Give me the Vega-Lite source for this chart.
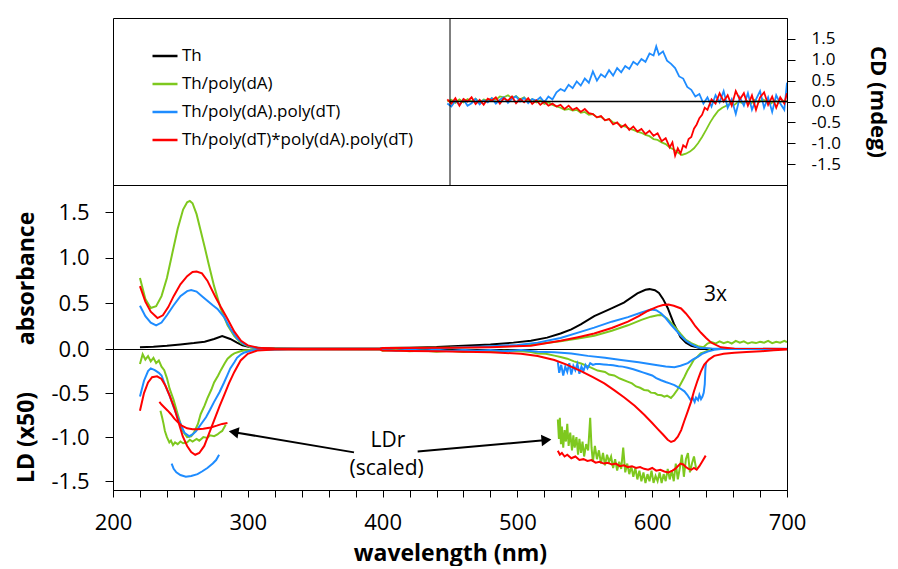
{
"$schema": "https://vega.github.io/schema/vega-lite/v6.json",
"padding": {"left": 14, "top": 17, "right": 4, "bottom": 0},
"config": {
  "font": "Open Sans",
  "view": {"stroke": "#000", "strokeWidth": 1},
  "axis": {"grid": false, "domainColor": "#000", "tickColor": "#000", "labelColor": "#000", "titleColor": "#000", "labelFont": "Open Sans", "titleFont": "Open Sans", "labelFontSize": 22, "titleFontSize": 23, "titleFontWeight": "bold", "labelFlush": false, "labelOverlap": false, "tickWidth": 1, "domainWidth": 1}
},
"datasets": {
  "cd": [
{"s":"G","w":448,"v":0},{"s":"G","w":451,"v":0.04},{"s":"G","w":454,"v":-0.03},{"s":"G","w":457,"v":0.05},{"s":"G","w":460,"v":-0.02},{"s":"G","w":463,"v":0.06},{"s":"G","w":466,"v":0},{"s":"G","w":469,"v":0.07},{"s":"G","w":472,"v":-0.03},{"s":"G","w":475,"v":0.05},{"s":"G","w":478,"v":0.02},{"s":"G","w":481,"v":0.08},{"s":"G","w":484,"v":0.04},{"s":"G","w":487,"v":0.12},{"s":"G","w":490,"v":0.1},{"s":"G","w":493,"v":0.15},{"s":"G","w":496,"v":0.08},{"s":"G","w":499,"v":0.13},{"s":"G","w":502,"v":0.05},{"s":"G","w":505,"v":0.1},{"s":"G","w":508,"v":0},{"s":"G","w":511,"v":0.06},{"s":"G","w":514,"v":-0.02},{"s":"G","w":517,"v":0.03},{"s":"G","w":520,"v":-0.06},{"s":"G","w":523,"v":-0.02},{"s":"G","w":526,"v":-0.08},{"s":"G","w":529,"v":-0.12},{"s":"G","w":532,"v":-0.15},{"s":"G","w":535,"v":-0.2},{"s":"G","w":538,"v":-0.18},{"s":"G","w":541,"v":-0.22},{"s":"G","w":544,"v":-0.2},{"s":"G","w":547,"v":-0.27},{"s":"G","w":550,"v":-0.25},{"s":"G","w":553,"v":-0.32},{"s":"G","w":556,"v":-0.3},{"s":"G","w":559,"v":-0.38},{"s":"G","w":562,"v":-0.36},{"s":"G","w":565,"v":-0.45},{"s":"G","w":568,"v":-0.42},{"s":"G","w":571,"v":-0.5},{"s":"G","w":574,"v":-0.52},{"s":"G","w":577,"v":-0.58},{"s":"G","w":580,"v":-0.6},{"s":"G","w":583,"v":-0.65},{"s":"G","w":586,"v":-0.68},{"s":"G","w":589,"v":-0.72},{"s":"G","w":592,"v":-0.75},{"s":"G","w":595,"v":-0.8},{"s":"G","w":598,"v":-0.83},{"s":"G","w":601,"v":-0.9},{"s":"G","w":604,"v":-0.92},{"s":"G","w":607,"v":-0.98},{"s":"G","w":610,"v":-1.02},{"s":"G","w":613,"v":-1.1},{"s":"G","w":616,"v":-1.15},{"s":"G","w":619,"v":-1.22},{"s":"G","w":622,"v":-1.28},{"s":"G","w":625,"v":-1.25},{"s":"G","w":628,"v":-1.2},{"s":"G","w":631,"v":-1.12},{"s":"G","w":634,"v":-1},{"s":"G","w":637,"v":-0.85},{"s":"G","w":640,"v":-0.68},{"s":"G","w":643,"v":-0.5},{"s":"G","w":646,"v":-0.35},{"s":"G","w":649,"v":-0.22},{"s":"G","w":652,"v":-0.15},{"s":"G","w":655,"v":-0.1},{"s":"G","w":658,"v":-0.05},{"s":"G","w":661,"v":-0.08},{"s":"G","w":664,"v":0},{"s":"G","w":667,"v":-0.04},{"s":"G","w":670,"v":0.02},{"s":"G","w":673,"v":-0.06},{"s":"G","w":676,"v":0.04},{"s":"G","w":679,"v":-0.02},{"s":"G","w":682,"v":0.05},{"s":"G","w":685,"v":0},{"s":"G","w":688,"v":-0.05},{"s":"G","w":691,"v":0.03},{"s":"G","w":694,"v":-0.03},{"s":"G","w":697,"v":0.02},{"s":"G","w":700,"v":0},
{"s":"B","w":448,"v":-0.05},{"s":"B","w":451,"v":-0.12},{"s":"B","w":454,"v":0.02},{"s":"B","w":457,"v":-0.08},{"s":"B","w":460,"v":0.05},{"s":"B","w":463,"v":-0.1},{"s":"B","w":466,"v":-0.04},{"s":"B","w":469,"v":0.06},{"s":"B","w":472,"v":-0.07},{"s":"B","w":475,"v":0.03},{"s":"B","w":478,"v":-0.02},{"s":"B","w":481,"v":0.08},{"s":"B","w":484,"v":-0.05},{"s":"B","w":487,"v":0.04},{"s":"B","w":490,"v":0.1},{"s":"B","w":493,"v":-0.03},{"s":"B","w":496,"v":0.07},{"s":"B","w":499,"v":0.12},{"s":"B","w":502,"v":0},{"s":"B","w":505,"v":0.09},{"s":"B","w":508,"v":-0.04},{"s":"B","w":511,"v":0.06},{"s":"B","w":514,"v":0.02},{"s":"B","w":517,"v":0.1},{"s":"B","w":520,"v":-0.02},{"s":"B","w":523,"v":0.12},{"s":"B","w":526,"v":0.05},{"s":"B","w":529,"v":0.22},{"s":"B","w":532,"v":0.3},{"s":"B","w":535,"v":0.25},{"s":"B","w":538,"v":0.4},{"s":"B","w":541,"v":0.32},{"s":"B","w":544,"v":0.48},{"s":"B","w":547,"v":0.38},{"s":"B","w":550,"v":0.55},{"s":"B","w":553,"v":0.45},{"s":"B","w":556,"v":0.72},{"s":"B","w":559,"v":0.5},{"s":"B","w":562,"v":0.65},{"s":"B","w":565,"v":0.58},{"s":"B","w":568,"v":0.75},{"s":"B","w":571,"v":0.62},{"s":"B","w":574,"v":0.8},{"s":"B","w":577,"v":0.7},{"s":"B","w":580,"v":0.85},{"s":"B","w":583,"v":0.78},{"s":"B","w":586,"v":0.95},{"s":"B","w":589,"v":0.88},{"s":"B","w":592,"v":1.02},{"s":"B","w":595,"v":0.95},{"s":"B","w":598,"v":1.15},{"s":"B","w":601,"v":1.1},{"s":"B","w":603,"v":1.32},{"s":"B","w":605,"v":1.12},{"s":"B","w":608,"v":1.2},{"s":"B","w":611,"v":0.98},{"s":"B","w":614,"v":0.9},{"s":"B","w":617,"v":0.8},{"s":"B","w":620,"v":0.6},{"s":"B","w":623,"v":0.55},{"s":"B","w":626,"v":0.35},{"s":"B","w":629,"v":0.28},{"s":"B","w":632,"v":0.12},{"s":"B","w":635,"v":0.18},{"s":"B","w":638,"v":-0.05},{"s":"B","w":641,"v":0.1},{"s":"B","w":644,"v":-0.12},{"s":"B","w":647,"v":0.15},{"s":"B","w":650,"v":-0.02},{"s":"B","w":653,"v":0.25},{"s":"B","w":656,"v":-0.15},{"s":"B","w":659,"v":0.05},{"s":"B","w":662,"v":-0.3},{"s":"B","w":665,"v":0.1},{"s":"B","w":668,"v":-0.1},{"s":"B","w":671,"v":0.2},{"s":"B","w":674,"v":-0.2},{"s":"B","w":677,"v":0.05},{"s":"B","w":680,"v":0.25},{"s":"B","w":683,"v":-0.15},{"s":"B","w":686,"v":0.1},{"s":"B","w":689,"v":-0.25},{"s":"B","w":692,"v":0.15},{"s":"B","w":695,"v":-0.05},{"s":"B","w":698,"v":-0.2},{"s":"B","w":700,"v":0.45},
{"s":"R","w":448,"v":0.05},{"s":"R","w":451,"v":-0.05},{"s":"R","w":454,"v":0.08},{"s":"R","w":457,"v":-0.1},{"s":"R","w":460,"v":0.06},{"s":"R","w":463,"v":0},{"s":"R","w":466,"v":0.1},{"s":"R","w":469,"v":-0.06},{"s":"R","w":472,"v":0.04},{"s":"R","w":475,"v":-0.08},{"s":"R","w":478,"v":0.07},{"s":"R","w":481,"v":0.02},{"s":"R","w":484,"v":0.1},{"s":"R","w":487,"v":-0.05},{"s":"R","w":490,"v":0.08},{"s":"R","w":493,"v":0.02},{"s":"R","w":496,"v":0.12},{"s":"R","w":499,"v":-0.04},{"s":"R","w":502,"v":0.06},{"s":"R","w":505,"v":-0.02},{"s":"R","w":508,"v":0.08},{"s":"R","w":511,"v":-0.06},{"s":"R","w":514,"v":0.03},{"s":"R","w":517,"v":-0.08},{"s":"R","w":520,"v":0},{"s":"R","w":523,"v":-0.1},{"s":"R","w":526,"v":-0.05},{"s":"R","w":529,"v":-0.12},{"s":"R","w":532,"v":-0.08},{"s":"R","w":535,"v":-0.18},{"s":"R","w":538,"v":-0.1},{"s":"R","w":541,"v":-0.2},{"s":"R","w":544,"v":-0.15},{"s":"R","w":547,"v":-0.25},{"s":"R","w":550,"v":-0.18},{"s":"R","w":553,"v":-0.28},{"s":"R","w":556,"v":-0.3},{"s":"R","w":559,"v":-0.38},{"s":"R","w":562,"v":-0.35},{"s":"R","w":565,"v":-0.45},{"s":"R","w":568,"v":-0.42},{"s":"R","w":571,"v":-0.55},{"s":"R","w":574,"v":-0.5},{"s":"R","w":577,"v":-0.62},{"s":"R","w":580,"v":-0.55},{"s":"R","w":583,"v":-0.68},{"s":"R","w":586,"v":-0.6},{"s":"R","w":589,"v":-0.72},{"s":"R","w":592,"v":-0.66},{"s":"R","w":595,"v":-0.78},{"s":"R","w":598,"v":-0.7},{"s":"R","w":601,"v":-0.82},{"s":"R","w":604,"v":-0.76},{"s":"R","w":607,"v":-0.95},{"s":"R","w":610,"v":-0.88},{"s":"R","w":613,"v":-1.1},{"s":"R","w":615,"v":-0.98},{"s":"R","w":617,"v":-1.3},{"s":"R","w":619,"v":-1.12},{"s":"R","w":621,"v":-1.25},{"s":"R","w":623,"v":-1.05},{"s":"R","w":625,"v":-1.1},{"s":"R","w":627,"v":-0.9},{"s":"R","w":629,"v":-0.85},{"s":"R","w":631,"v":-0.65},{"s":"R","w":633,"v":-0.55},{"s":"R","w":635,"v":-0.4},{"s":"R","w":637,"v":-0.32},{"s":"R","w":639,"v":-0.15},{"s":"R","w":641,"v":-0.2},{"s":"R","w":644,"v":0.05},{"s":"R","w":647,"v":-0.05},{"s":"R","w":650,"v":0.2},{"s":"R","w":653,"v":0},{"s":"R","w":656,"v":0.15},{"s":"R","w":659,"v":-0.1},{"s":"R","w":662,"v":0.25},{"s":"R","w":665,"v":0.05},{"s":"R","w":668,"v":0.2},{"s":"R","w":671,"v":-0.1},{"s":"R","w":674,"v":0.15},{"s":"R","w":677,"v":-0.2},{"s":"R","w":680,"v":0.1},{"s":"R","w":683,"v":0.22},{"s":"R","w":686,"v":-0.08},{"s":"R","w":689,"v":0.12},{"s":"R","w":692,"v":-0.15},{"s":"R","w":695,"v":0.1},{"s":"R","w":698,"v":-0.05},{"s":"R","w":700,"v":0.2}
  ],
  "abs": [
{"s":"K","w":220,"v":0.02},{"s":"K","w":230,"v":0.025},{"s":"K","w":240,"v":0.035},{"s":"K","w":250,"v":0.05},{"s":"K","w":260,"v":0.065},{"s":"K","w":268,"v":0.08},{"s":"K","w":275,"v":0.11},{"s":"K","w":281,"v":0.143},{"s":"K","w":287,"v":0.11},{"s":"K","w":292,"v":0.07},{"s":"K","w":296,"v":0.04},{"s":"K","w":302,"v":0.018},{"s":"K","w":310,"v":0.01},{"s":"K","w":320,"v":0.006},{"s":"K","w":340,"v":0.004},{"s":"K","w":398,"v":0.004},{"s":"K","w":400,"v":0.012},{"s":"K","w":420,"v":0.015},{"s":"K","w":440,"v":0.022},{"s":"K","w":460,"v":0.036},{"s":"K","w":480,"v":0.05},{"s":"K","w":497,"v":0.07},{"s":"K","w":510,"v":0.09},{"s":"K","w":522,"v":0.125},{"s":"K","w":532,"v":0.17},{"s":"K","w":540,"v":0.215},{"s":"K","w":547,"v":0.27},{"s":"K","w":557,"v":0.36},{"s":"K","w":569,"v":0.44},{"s":"K","w":579,"v":0.51},{"s":"K","w":589,"v":0.61},{"s":"K","w":595,"v":0.65},{"s":"K","w":598,"v":0.657},{"s":"K","w":602,"v":0.645},{"s":"K","w":605,"v":0.615},{"s":"K","w":608,"v":0.55},{"s":"K","w":611.5,"v":0.45},{"s":"K","w":616,"v":0.28},{"s":"K","w":621,"v":0.13},{"s":"K","w":625,"v":0.07},{"s":"K","w":629,"v":0.036},{"s":"K","w":636,"v":0.008},{"s":"K","w":645,"v":0},{"s":"K","w":700,"v":0},
{"s":"G","w":220,"v":0.78},{"s":"G","w":224,"v":0.55},{"s":"G","w":228,"v":0.45},{"s":"G","w":232,"v":0.47},{"s":"G","w":236,"v":0.58},{"s":"G","w":240,"v":0.78},{"s":"G","w":244,"v":1.05},{"s":"G","w":248,"v":1.32},{"s":"G","w":252,"v":1.53},{"s":"G","w":255,"v":1.61},{"s":"G","w":257,"v":1.625},{"s":"G","w":259,"v":1.6},{"s":"G","w":262,"v":1.48},{"s":"G","w":265,"v":1.3},{"s":"G","w":268,"v":1.12},{"s":"G","w":271,"v":0.93},{"s":"G","w":275,"v":0.69},{"s":"G","w":280,"v":0.44},{"s":"G","w":285,"v":0.26},{"s":"G","w":290,"v":0.14},{"s":"G","w":295,"v":0.064},{"s":"G","w":302,"v":0.02},{"s":"G","w":310,"v":0.008},{"s":"G","w":330,"v":0.004},{"s":"G","w":398,"v":0.003},{"s":"G","w":400,"v":0.01},{"s":"G","w":450,"v":0.015},{"s":"G","w":480,"v":0.025},{"s":"G","w":500,"v":0.035},{"s":"G","w":515,"v":0.055},{"s":"G","w":532,"v":0.085},{"s":"G","w":545,"v":0.115},{"s":"G","w":557,"v":0.145},{"s":"G","w":570,"v":0.2},{"s":"G","w":582,"v":0.26},{"s":"G","w":592,"v":0.32},{"s":"G","w":599,"v":0.355},{"s":"G","w":604,"v":0.37},{"s":"G","w":607,"v":0.373},{"s":"G","w":611,"v":0.335},{"s":"G","w":614,"v":0.285},{"s":"G","w":618,"v":0.22},{"s":"G","w":621.4,"v":0.16},{"s":"G","w":625,"v":0.1},{"s":"G","w":629,"v":0.064},{"s":"G","w":634,"v":0.03},{"s":"G","w":638,"v":0.02},{"s":"G","w":641,"v":0.06},{"s":"G","w":644,"v":0.075},{"s":"G","w":647,"v":0.06},{"s":"G","w":650,"v":0.085},{"s":"G","w":653,"v":0.065},{"s":"G","w":656,"v":0.08},{"s":"G","w":659,"v":0.06},{"s":"G","w":662,"v":0.09},{"s":"G","w":665,"v":0.07},{"s":"G","w":668,"v":0.085},{"s":"G","w":671,"v":0.06},{"s":"G","w":674,"v":0.075},{"s":"G","w":677,"v":0.065},{"s":"G","w":680,"v":0.08},{"s":"G","w":683,"v":0.07},{"s":"G","w":686,"v":0.09},{"s":"G","w":689,"v":0.065},{"s":"G","w":692,"v":0.08},{"s":"G","w":695,"v":0.07},{"s":"G","w":698,"v":0.09},{"s":"G","w":700,"v":0.075},
{"s":"B","w":220,"v":0.475},{"s":"B","w":224,"v":0.36},{"s":"B","w":228,"v":0.29},{"s":"B","w":232,"v":0.26},{"s":"B","w":236,"v":0.29},{"s":"B","w":240,"v":0.37},{"s":"B","w":245,"v":0.48},{"s":"B","w":250,"v":0.58},{"s":"B","w":255,"v":0.635},{"s":"B","w":258,"v":0.646},{"s":"B","w":262,"v":0.63},{"s":"B","w":266,"v":0.58},{"s":"B","w":270,"v":0.53},{"s":"B","w":274,"v":0.48},{"s":"B","w":277.5,"v":0.44},{"s":"B","w":282.4,"v":0.35},{"s":"B","w":287,"v":0.225},{"s":"B","w":292,"v":0.118},{"s":"B","w":297,"v":0.054},{"s":"B","w":304,"v":0.015},{"s":"B","w":315,"v":0.005},{"s":"B","w":398,"v":0.003},{"s":"B","w":400,"v":0.01},{"s":"B","w":450,"v":0.015},{"s":"B","w":480,"v":0.03},{"s":"B","w":500,"v":0.045},{"s":"B","w":515,"v":0.07},{"s":"B","w":532,"v":0.12},{"s":"B","w":545,"v":0.18},{"s":"B","w":557,"v":0.235},{"s":"B","w":570,"v":0.3},{"s":"B","w":582,"v":0.35},{"s":"B","w":592,"v":0.4},{"s":"B","w":599,"v":0.434},{"s":"B","w":603,"v":0.425},{"s":"B","w":606.7,"v":0.39},{"s":"B","w":610,"v":0.34},{"s":"B","w":614,"v":0.266},{"s":"B","w":618,"v":0.2},{"s":"B","w":621.4,"v":0.142},{"s":"B","w":625,"v":0.09},{"s":"B","w":628.8,"v":0.053},{"s":"B","w":633,"v":0.025},{"s":"B","w":636,"v":0.01},{"s":"B","w":645,"v":0.003},{"s":"B","w":700,"v":0.002},
{"s":"R","w":220,"v":0.69},{"s":"R","w":224,"v":0.52},{"s":"R","w":228,"v":0.41},{"s":"R","w":233,"v":0.34},{"s":"R","w":237,"v":0.37},{"s":"R","w":241,"v":0.46},{"s":"R","w":245,"v":0.58},{"s":"R","w":250,"v":0.71},{"s":"R","w":255,"v":0.8},{"s":"R","w":259,"v":0.845},{"s":"R","w":262,"v":0.85},{"s":"R","w":266,"v":0.83},{"s":"R","w":270,"v":0.75},{"s":"R","w":273,"v":0.66},{"s":"R","w":276,"v":0.57},{"s":"R","w":280,"v":0.46},{"s":"R","w":285,"v":0.33},{"s":"R","w":290,"v":0.19},{"s":"R","w":295,"v":0.09},{"s":"R","w":300,"v":0.04},{"s":"R","w":307,"v":0.015},{"s":"R","w":320,"v":0.005},{"s":"R","w":398,"v":0.003},{"s":"R","w":400,"v":0.01},{"s":"R","w":450,"v":0.013},{"s":"R","w":480,"v":0.02},{"s":"R","w":510,"v":0.036},{"s":"R","w":532,"v":0.09},{"s":"R","w":545,"v":0.13},{"s":"R","w":557,"v":0.17},{"s":"R","w":570,"v":0.23},{"s":"R","w":582,"v":0.3},{"s":"R","w":590,"v":0.36},{"s":"R","w":597,"v":0.42},{"s":"R","w":604,"v":0.465},{"s":"R","w":608,"v":0.483},{"s":"R","w":612,"v":0.487},{"s":"R","w":616,"v":0.475},{"s":"R","w":621.4,"v":0.445},{"s":"R","w":625,"v":0.39},{"s":"R","w":628.8,"v":0.32},{"s":"R","w":632,"v":0.25},{"s":"R","w":636.2,"v":0.178},{"s":"R","w":640,"v":0.12},{"s":"R","w":643.6,"v":0.071},{"s":"R","w":651,"v":0.018},{"s":"R","w":661,"v":0.003},{"s":"R","w":700,"v":0}
  ],
  "ld": [
{"s":"G","p":"m","w":220,"v":-0.17},{"s":"G","p":"m","w":222,"v":-0.06},{"s":"G","p":"m","w":224,"v":-0.12},{"s":"G","p":"m","w":226,"v":-0.08},{"s":"G","p":"m","w":228,"v":-0.14},{"s":"G","p":"m","w":230,"v":-0.1},{"s":"G","p":"m","w":232,"v":-0.16},{"s":"G","p":"m","w":234,"v":-0.13},{"s":"G","p":"m","w":236,"v":-0.2},{"s":"G","p":"m","w":238,"v":-0.24},{"s":"G","p":"m","w":240,"v":-0.33},{"s":"G","p":"m","w":242,"v":-0.45},{"s":"G","p":"m","w":245,"v":-0.58},{"s":"G","p":"m","w":248,"v":-0.74},{"s":"G","p":"m","w":251.7,"v":-0.93},{"s":"G","p":"m","w":255,"v":-1},{"s":"G","p":"m","w":258,"v":-0.99},{"s":"G","p":"m","w":260,"v":-0.95},{"s":"G","p":"m","w":263,"v":-0.85},{"s":"G","p":"m","w":265,"v":-0.74},{"s":"G","p":"m","w":268,"v":-0.64},{"s":"G","p":"m","w":270,"v":-0.56},{"s":"G","p":"m","w":273,"v":-0.46},{"s":"G","p":"m","w":275,"v":-0.38},{"s":"G","p":"m","w":278,"v":-0.3},{"s":"G","p":"m","w":280,"v":-0.24},{"s":"G","p":"m","w":283,"v":-0.16},{"s":"G","p":"m","w":285,"v":-0.11},{"s":"G","p":"m","w":288,"v":-0.07},{"s":"G","p":"m","w":290,"v":-0.05},{"s":"G","p":"m","w":294,"v":-0.028},{"s":"G","p":"m","w":297,"v":-0.018},{"s":"G","p":"m","w":305,"v":-0.008},{"s":"G","p":"m","w":330,"v":-0.004},{"s":"G","p":"m","w":398,"v":-0.005},{"s":"G","p":"m","w":400,"v":-0.02},{"s":"G","p":"m","w":410,"v":-0.012},{"s":"G","p":"m","w":420,"v":-0.025},{"s":"G","p":"m","w":430,"v":-0.018},{"s":"G","p":"m","w":440,"v":-0.03},{"s":"G","p":"m","w":450,"v":-0.02},{"s":"G","p":"m","w":460,"v":-0.035},{"s":"G","p":"m","w":470,"v":-0.022},{"s":"G","p":"m","w":480,"v":-0.032},{"s":"G","p":"m","w":490,"v":-0.02},{"s":"G","p":"m","w":502.7,"v":-0.025},{"s":"G","p":"m","w":510,"v":-0.035},{"s":"G","p":"m","w":515,"v":-0.05},{"s":"G","p":"m","w":521,"v":-0.055},{"s":"G","p":"m","w":527.4,"v":-0.075},{"s":"G","p":"m","w":532,"v":-0.09},{"s":"G","p":"m","w":537,"v":-0.11},{"s":"G","p":"m","w":542,"v":-0.14},{"s":"G","p":"m","w":547.2,"v":-0.165},{"s":"G","p":"m","w":553,"v":-0.2},{"s":"G","p":"m","w":559.5,"v":-0.245},{"s":"G","p":"m","w":565,"v":-0.26},{"s":"G","p":"m","w":568,"v":-0.29},{"s":"G","p":"m","w":571.8,"v":-0.3},{"s":"G","p":"m","w":576,"v":-0.335},{"s":"G","p":"m","w":581.7,"v":-0.37},{"s":"G","p":"m","w":585,"v":-0.39},{"s":"G","p":"m","w":588,"v":-0.425},{"s":"G","p":"m","w":591,"v":-0.44},{"s":"G","p":"m","w":594,"v":-0.465},{"s":"G","p":"m","w":597,"v":-0.47},{"s":"G","p":"m","w":599,"v":-0.495},{"s":"G","p":"m","w":602,"v":-0.5},{"s":"G","p":"m","w":604,"v":-0.52},{"s":"G","p":"m","w":607,"v":-0.525},{"s":"G","p":"m","w":609,"v":-0.54},{"s":"G","p":"m","w":611,"v":-0.53},{"s":"G","p":"m","w":613.9,"v":-0.555},{"s":"G","p":"m","w":616,"v":-0.52},{"s":"G","p":"m","w":618.8,"v":-0.46},{"s":"G","p":"m","w":621,"v":-0.4},{"s":"G","p":"m","w":623.8,"v":-0.32},{"s":"G","p":"m","w":626,"v":-0.25},{"s":"G","p":"m","w":628.8,"v":-0.178},{"s":"G","p":"m","w":631,"v":-0.12},{"s":"G","p":"m","w":633.7,"v":-0.085},{"s":"G","p":"m","w":636,"v":-0.05},{"s":"G","p":"m","w":638.6,"v":-0.035},{"s":"G","p":"m","w":643.5,"v":-0.005},
{"s":"G","p":"rl","w":235.2,"v":-0.7},{"s":"G","p":"rl","w":236.5,"v":-0.78},{"s":"G","p":"rl","w":237.5,"v":-0.85},{"s":"G","p":"rl","w":238.5,"v":-0.93},{"s":"G","p":"rl","w":240,"v":-1},{"s":"G","p":"rl","w":241.8,"v":-1.06},{"s":"G","p":"rl","w":243,"v":-1.04},{"s":"G","p":"rl","w":244.5,"v":-1.09},{"s":"G","p":"rl","w":246,"v":-1.06},{"s":"G","p":"rl","w":248,"v":-1.08},{"s":"G","p":"rl","w":250,"v":-1.05},{"s":"G","p":"rl","w":252,"v":-1.07},{"s":"G","p":"rl","w":255,"v":-1.06},{"s":"G","p":"rl","w":257,"v":-1.03},{"s":"G","p":"rl","w":259,"v":-1.05},{"s":"G","p":"rl","w":262,"v":-1.02},{"s":"G","p":"rl","w":264,"v":-1.04},{"s":"G","p":"rl","w":267,"v":-1},{"s":"G","p":"rl","w":270,"v":-1.01},{"s":"G","p":"rl","w":272,"v":-0.98},{"s":"G","p":"rl","w":275,"v":-0.99},{"s":"G","p":"rl","w":277.5,"v":-0.97},{"s":"G","p":"rl","w":279,"v":-0.95},{"s":"G","p":"rl","w":281,"v":-0.93},{"s":"G","p":"rl","w":283.6,"v":-0.86},
{"s":"G","p":"rr","w":530,"v":-0.8},{"s":"G","p":"rr","w":530.8,"v":-1.02},{"s":"G","p":"rr","w":531.5,"v":-0.78},{"s":"G","p":"rr","w":532.3,"v":-1.08},{"s":"G","p":"rr","w":533,"v":-0.88},{"s":"G","p":"rr","w":534,"v":-1.12},{"s":"G","p":"rr","w":535,"v":-0.92},{"s":"G","p":"rr","w":536,"v":-1.05},{"s":"G","p":"rr","w":537,"v":-0.85},{"s":"G","p":"rr","w":538,"v":-1.1},{"s":"G","p":"rr","w":539.2,"v":-0.95},{"s":"G","p":"rr","w":540.5,"v":-1.15},{"s":"G","p":"rr","w":541.5,"v":-0.98},{"s":"G","p":"rr","w":542.5,"v":-1.12},{"s":"G","p":"rr","w":543.8,"v":-1},{"s":"G","p":"rr","w":545,"v":-1.2},{"s":"G","p":"rr","w":546,"v":-1.02},{"s":"G","p":"rr","w":547.2,"v":-1.18},{"s":"G","p":"rr","w":548.3,"v":-1.05},{"s":"G","p":"rr","w":549.5,"v":-1.22},{"s":"G","p":"rr","w":551,"v":-1.08},{"s":"G","p":"rr","w":552.5,"v":-1.15},{"s":"G","p":"rr","w":554,"v":-0.78},{"s":"G","p":"rr","w":555,"v":-1.12},{"s":"G","p":"rr","w":556,"v":-1.28},{"s":"G","p":"rr","w":557.5,"v":-1.1},{"s":"G","p":"rr","w":559,"v":-1.25},{"s":"G","p":"rr","w":560.5,"v":-1.15},{"s":"G","p":"rr","w":562,"v":-1.3},{"s":"G","p":"rr","w":563.5,"v":-1.18},{"s":"G","p":"rr","w":565,"v":-1.32},{"s":"G","p":"rr","w":566.5,"v":-1.2},{"s":"G","p":"rr","w":568,"v":-1.28},{"s":"G","p":"rr","w":569.5,"v":-1.22},{"s":"G","p":"rr","w":571,"v":-1.35},{"s":"G","p":"rr","w":572.5,"v":-1.25},{"s":"G","p":"rr","w":574,"v":-1.38},{"s":"G","p":"rr","w":575.5,"v":-1.28},{"s":"G","p":"rr","w":577,"v":-1.36},{"s":"G","p":"rr","w":578.5,"v":-1.12},{"s":"G","p":"rr","w":580,"v":-1.4},{"s":"G","p":"rr","w":581.5,"v":-1.3},{"s":"G","p":"rr","w":583,"v":-1.42},{"s":"G","p":"rr","w":584.5,"v":-1.33},{"s":"G","p":"rr","w":586,"v":-1.45},{"s":"G","p":"rr","w":587.5,"v":-1.35},{"s":"G","p":"rr","w":589,"v":-1.48},{"s":"G","p":"rr","w":590.5,"v":-1.38},{"s":"G","p":"rr","w":592,"v":-1.5},{"s":"G","p":"rr","w":593.5,"v":-1.4},{"s":"G","p":"rr","w":595,"v":-1.52},{"s":"G","p":"rr","w":596.5,"v":-1.42},{"s":"G","p":"rr","w":598,"v":-1.5},{"s":"G","p":"rr","w":599.5,"v":-1.38},{"s":"G","p":"rr","w":601,"v":-1.52},{"s":"G","p":"rr","w":602.5,"v":-1.44},{"s":"G","p":"rr","w":604,"v":-1.5},{"s":"G","p":"rr","w":605.5,"v":-1.4},{"s":"G","p":"rr","w":607,"v":-1.52},{"s":"G","p":"rr","w":608.5,"v":-1.42},{"s":"G","p":"rr","w":610,"v":-1.5},{"s":"G","p":"rr","w":611.5,"v":-1.36},{"s":"G","p":"rr","w":613,"v":-1.48},{"s":"G","p":"rr","w":614.5,"v":-1.38},{"s":"G","p":"rr","w":616,"v":-1.5},{"s":"G","p":"rr","w":617.5,"v":-1.3},{"s":"G","p":"rr","w":619,"v":-1.48},{"s":"G","p":"rr","w":620.5,"v":-1.35},{"s":"G","p":"rr","w":622,"v":-1.2},{"s":"G","p":"rr","w":623.5,"v":-1.45},{"s":"G","p":"rr","w":625,"v":-1.25},{"s":"G","p":"rr","w":626.5,"v":-1.18},{"s":"G","p":"rr","w":628,"v":-1.4},{"s":"G","p":"rr","w":629.5,"v":-1.3},{"s":"G","p":"rr","w":631,"v":-1.22},{"s":"G","p":"rr","w":632.5,"v":-1.35},
{"s":"B","p":"m","w":220,"v":-0.54},{"s":"B","p":"m","w":223,"v":-0.36},{"s":"B","p":"m","w":226,"v":-0.25},{"s":"B","p":"m","w":228,"v":-0.22},{"s":"B","p":"m","w":231,"v":-0.24},{"s":"B","p":"m","w":234,"v":-0.27},{"s":"B","p":"m","w":236,"v":-0.3},{"s":"B","p":"m","w":239,"v":-0.42},{"s":"B","p":"m","w":242,"v":-0.53},{"s":"B","p":"m","w":245,"v":-0.66},{"s":"B","p":"m","w":248,"v":-0.775},{"s":"B","p":"m","w":251,"v":-0.88},{"s":"B","p":"m","w":253,"v":-0.95},{"s":"B","p":"m","w":256.6,"v":-0.99},{"s":"B","p":"m","w":259,"v":-0.97},{"s":"B","p":"m","w":261.5,"v":-0.935},{"s":"B","p":"m","w":265,"v":-0.86},{"s":"B","p":"m","w":269,"v":-0.775},{"s":"B","p":"m","w":272,"v":-0.69},{"s":"B","p":"m","w":275,"v":-0.6},{"s":"B","p":"m","w":279,"v":-0.49},{"s":"B","p":"m","w":282.4,"v":-0.38},{"s":"B","p":"m","w":285,"v":-0.29},{"s":"B","p":"m","w":287,"v":-0.22},{"s":"B","p":"m","w":290,"v":-0.15},{"s":"B","p":"m","w":292,"v":-0.1},{"s":"B","p":"m","w":295,"v":-0.06},{"s":"B","p":"m","w":297,"v":-0.043},{"s":"B","p":"m","w":302,"v":-0.02},{"s":"B","p":"m","w":307,"v":-0.01},{"s":"B","p":"m","w":330,"v":-0.004},{"s":"B","p":"m","w":398,"v":-0.004},{"s":"B","p":"m","w":400,"v":-0.01},{"s":"B","p":"m","w":410,"v":-0.02},{"s":"B","p":"m","w":420,"v":-0.006},{"s":"B","p":"m","w":430,"v":-0.018},{"s":"B","p":"m","w":440,"v":-0.008},{"s":"B","p":"m","w":450,"v":-0.022},{"s":"B","p":"m","w":460,"v":-0.01},{"s":"B","p":"m","w":470,"v":-0.02},{"s":"B","p":"m","w":480,"v":-0.012},{"s":"B","p":"m","w":490,"v":-0.025},{"s":"B","p":"m","w":502.7,"v":-0.011},{"s":"B","p":"m","w":515,"v":-0.03},{"s":"B","p":"m","w":527.4,"v":-0.036},{"s":"B","p":"m","w":540,"v":-0.052},{"s":"B","p":"m","w":552.2,"v":-0.078},{"s":"B","p":"m","w":565,"v":-0.1},{"s":"B","p":"m","w":576.9,"v":-0.124},{"s":"B","p":"m","w":590,"v":-0.15},{"s":"B","p":"m","w":601.6,"v":-0.178},{"s":"B","p":"m","w":610,"v":-0.198},{"s":"B","p":"m","w":616.5,"v":-0.206},{"s":"B","p":"m","w":621,"v":-0.19},{"s":"B","p":"m","w":626.4,"v":-0.16},{"s":"B","p":"m","w":630,"v":-0.12},{"s":"B","p":"m","w":633.8,"v":-0.089},{"s":"B","p":"m","w":637,"v":-0.055},{"s":"B","p":"m","w":641.2,"v":-0.028},{"s":"B","p":"m","w":646,"v":-0.01},{"s":"B","p":"m","w":651,"v":0},{"s":"B","p":"m","w":700,"v":0},
{"s":"B","p":"rl","w":243.5,"v":-1.3},{"s":"B","p":"rl","w":245,"v":-1.36},{"s":"B","p":"rl","w":247,"v":-1.4},{"s":"B","p":"rl","w":250,"v":-1.43},{"s":"B","p":"rl","w":254,"v":-1.45},{"s":"B","p":"rl","w":258,"v":-1.44},{"s":"B","p":"rl","w":262.7,"v":-1.42},{"s":"B","p":"rl","w":266,"v":-1.39},{"s":"B","p":"rl","w":270,"v":-1.35},{"s":"B","p":"rl","w":274,"v":-1.3},{"s":"B","p":"rl","w":276.5,"v":-1.26},{"s":"B","p":"rl","w":278.7,"v":-1.2},
{"s":"B","p":"bb","w":530,"v":-0.15},{"s":"B","p":"bb","w":531,"v":-0.27},{"s":"B","p":"bb","w":532.5,"v":-0.18},{"s":"B","p":"bb","w":534,"v":-0.3},{"s":"B","p":"bb","w":535.5,"v":-0.2},{"s":"B","p":"bb","w":537,"v":-0.26},{"s":"B","p":"bb","w":538.5,"v":-0.16},{"s":"B","p":"bb","w":540,"v":-0.29},{"s":"B","p":"bb","w":541.5,"v":-0.19},{"s":"B","p":"bb","w":543,"v":-0.24},{"s":"B","p":"bb","w":544.5,"v":-0.17},{"s":"B","p":"bb","w":546,"v":-0.28},{"s":"B","p":"bb","w":547.5,"v":-0.2},{"s":"B","p":"bb","w":549,"v":-0.25},{"s":"B","p":"bb","w":550.5,"v":-0.18},{"s":"B","p":"bb","w":552,"v":-0.22},{"s":"B","p":"bb","w":554,"v":-0.16},{"s":"B","p":"bb","w":556,"v":-0.18},{"s":"B","p":"bb","w":558,"v":-0.17},{"s":"B","p":"bb","w":561,"v":-0.17},{"s":"B","p":"bb","w":564,"v":-0.175},{"s":"B","p":"bb","w":567,"v":-0.18},{"s":"B","p":"bb","w":571,"v":-0.185},{"s":"B","p":"bb","w":575,"v":-0.195},{"s":"B","p":"bb","w":578,"v":-0.2},{"s":"B","p":"bb","w":581.8,"v":-0.213},{"s":"B","p":"bb","w":586,"v":-0.23},{"s":"B","p":"bb","w":590,"v":-0.25},{"s":"B","p":"bb","w":593,"v":-0.265},{"s":"B","p":"bb","w":596.7,"v":-0.284},{"s":"B","p":"bb","w":600,"v":-0.3},{"s":"B","p":"bb","w":603,"v":-0.33},{"s":"B","p":"bb","w":606.6,"v":-0.355},{"s":"B","p":"bb","w":610,"v":-0.375},{"s":"B","p":"bb","w":613,"v":-0.39},{"s":"B","p":"bb","w":616.5,"v":-0.409},{"s":"B","p":"bb","w":620,"v":-0.44},{"s":"B","p":"bb","w":623.9,"v":-0.48},{"s":"B","p":"bb","w":626,"v":-0.52},{"s":"B","p":"bb","w":628.8,"v":-0.586},{"s":"B","p":"bb","w":630,"v":-0.55},{"s":"B","p":"bb","w":631.5,"v":-0.6},{"s":"B","p":"bb","w":632.5,"v":-0.551},{"s":"B","p":"bb","w":634,"v":-0.58},{"s":"B","p":"bb","w":635,"v":-0.52},{"s":"B","p":"bb","w":636.2,"v":-0.569},{"s":"B","p":"bb","w":637.3,"v":-0.54},{"s":"B","p":"bb","w":638.2,"v":-0.497},{"s":"B","p":"bb","w":639,"v":-0.4},{"s":"B","p":"bb","w":639.5,"v":-0.213},{"s":"B","p":"bb","w":640,"v":-0.15},
{"s":"R","p":"m","w":220,"v":-0.7},{"s":"R","p":"m","w":223,"v":-0.5},{"s":"R","p":"m","w":226,"v":-0.38},{"s":"R","p":"m","w":229,"v":-0.32},{"s":"R","p":"m","w":232.7,"v":-0.31},{"s":"R","p":"m","w":236,"v":-0.34},{"s":"R","p":"m","w":239,"v":-0.42},{"s":"R","p":"m","w":242,"v":-0.53},{"s":"R","p":"m","w":245.5,"v":-0.67},{"s":"R","p":"m","w":248,"v":-0.8},{"s":"R","p":"m","w":251.7,"v":-0.99},{"s":"R","p":"m","w":255,"v":-1.1},{"s":"R","p":"m","w":258,"v":-1.17},{"s":"R","p":"m","w":261,"v":-1.2},{"s":"R","p":"m","w":264,"v":-1.18},{"s":"R","p":"m","w":267.7,"v":-1.1},{"s":"R","p":"m","w":271,"v":-0.97},{"s":"R","p":"m","w":275,"v":-0.81},{"s":"R","p":"m","w":279,"v":-0.65},{"s":"R","p":"m","w":282.4,"v":-0.525},{"s":"R","p":"m","w":286,"v":-0.39},{"s":"R","p":"m","w":290,"v":-0.26},{"s":"R","p":"m","w":294.7,"v":-0.13},{"s":"R","p":"m","w":300,"v":-0.054},{"s":"R","p":"m","w":307,"v":-0.018},{"s":"R","p":"m","w":320,"v":-0.006},{"s":"R","p":"m","w":398,"v":-0.006},{"s":"R","p":"m","w":400,"v":-0.018},{"s":"R","p":"m","w":420,"v":-0.022},{"s":"R","p":"m","w":440,"v":-0.025},{"s":"R","p":"m","w":460,"v":-0.03},{"s":"R","p":"m","w":480,"v":-0.038},{"s":"R","p":"m","w":502.7,"v":-0.053},{"s":"R","p":"m","w":515,"v":-0.08},{"s":"R","p":"m","w":527.4,"v":-0.125},{"s":"R","p":"m","w":537,"v":-0.18},{"s":"R","p":"m","w":547.2,"v":-0.25},{"s":"R","p":"m","w":556,"v":-0.32},{"s":"R","p":"m","w":564.5,"v":-0.39},{"s":"R","p":"m","w":572,"v":-0.47},{"s":"R","p":"m","w":579.3,"v":-0.55},{"s":"R","p":"m","w":587,"v":-0.645},{"s":"R","p":"m","w":594.1,"v":-0.746},{"s":"R","p":"m","w":600,"v":-0.84},{"s":"R","p":"m","w":604,"v":-0.906},{"s":"R","p":"m","w":608,"v":-0.97},{"s":"R","p":"m","w":611.5,"v":-1.03},{"s":"R","p":"m","w":614,"v":-1.055},{"s":"R","p":"m","w":616.5,"v":-1.04},{"s":"R","p":"m","w":619,"v":-0.996},{"s":"R","p":"m","w":621.5,"v":-0.92},{"s":"R","p":"m","w":623.8,"v":-0.817},{"s":"R","p":"m","w":626.3,"v":-0.71},{"s":"R","p":"m","w":628.8,"v":-0.6},{"s":"R","p":"m","w":631,"v":-0.48},{"s":"R","p":"m","w":633.7,"v":-0.355},{"s":"R","p":"m","w":636,"v":-0.26},{"s":"R","p":"m","w":638.6,"v":-0.178},{"s":"R","p":"m","w":642,"v":-0.12},{"s":"R","p":"m","w":646,"v":-0.078},{"s":"R","p":"m","w":653,"v":-0.055},{"s":"R","p":"m","w":661,"v":-0.043},{"s":"R","p":"m","w":670,"v":-0.033},{"s":"R","p":"m","w":680.7,"v":-0.025},{"s":"R","p":"m","w":690,"v":-0.015},{"s":"R","p":"m","w":700,"v":-0.005},
{"s":"R","p":"rl","w":234.4,"v":-0.6},{"s":"R","p":"rl","w":236,"v":-0.63},{"s":"R","p":"rl","w":238,"v":-0.66},{"s":"R","p":"rl","w":240.6,"v":-0.7},{"s":"R","p":"rl","w":243,"v":-0.74},{"s":"R","p":"rl","w":245.5,"v":-0.79},{"s":"R","p":"rl","w":248,"v":-0.83},{"s":"R","p":"rl","w":251,"v":-0.87},{"s":"R","p":"rl","w":255,"v":-0.9},{"s":"R","p":"rl","w":259,"v":-0.91},{"s":"R","p":"rl","w":262.7,"v":-0.91},{"s":"R","p":"rl","w":267,"v":-0.905},{"s":"R","p":"rl","w":272.6,"v":-0.89},{"s":"R","p":"rl","w":277,"v":-0.87},{"s":"R","p":"rl","w":281,"v":-0.85},{"s":"R","p":"rl","w":284.9,"v":-0.84},
{"s":"R","p":"rr","w":530,"v":-1.155},{"s":"R","p":"rr","w":531.5,"v":-1.2},{"s":"R","p":"rr","w":533,"v":-1.18},{"s":"R","p":"rr","w":535,"v":-1.22},{"s":"R","p":"rr","w":537,"v":-1.2},{"s":"R","p":"rr","w":540,"v":-1.24},{"s":"R","p":"rr","w":543,"v":-1.22},{"s":"R","p":"rr","w":546,"v":-1.26},{"s":"R","p":"rr","w":549,"v":-1.25},{"s":"R","p":"rr","w":552,"v":-1.27},{"s":"R","p":"rr","w":555,"v":-1.26},{"s":"R","p":"rr","w":558,"v":-1.29},{"s":"R","p":"rr","w":561,"v":-1.28},{"s":"R","p":"rr","w":564,"v":-1.3},{"s":"R","p":"rr","w":567,"v":-1.29},{"s":"R","p":"rr","w":570,"v":-1.31},{"s":"R","p":"rr","w":573,"v":-1.3},{"s":"R","p":"rr","w":576,"v":-1.33},{"s":"R","p":"rr","w":579,"v":-1.32},{"s":"R","p":"rr","w":582,"v":-1.34},{"s":"R","p":"rr","w":585,"v":-1.33},{"s":"R","p":"rr","w":588,"v":-1.35},{"s":"R","p":"rr","w":591,"v":-1.34},{"s":"R","p":"rr","w":594,"v":-1.36},{"s":"R","p":"rr","w":597,"v":-1.37},{"s":"R","p":"rr","w":600,"v":-1.35},{"s":"R","p":"rr","w":603,"v":-1.38},{"s":"R","p":"rr","w":606,"v":-1.37},{"s":"R","p":"rr","w":609,"v":-1.39},{"s":"R","p":"rr","w":612,"v":-1.4},{"s":"R","p":"rr","w":615,"v":-1.38},{"s":"R","p":"rr","w":617,"v":-1.36},{"s":"R","p":"rr","w":619,"v":-1.33},{"s":"R","p":"rr","w":621,"v":-1.3},{"s":"R","p":"rr","w":623,"v":-1.31},{"s":"R","p":"rr","w":625,"v":-1.34},{"s":"R","p":"rr","w":627,"v":-1.36},{"s":"R","p":"rr","w":629,"v":-1.37},{"s":"R","p":"rr","w":631,"v":-1.35},{"s":"R","p":"rr","w":633,"v":-1.37},{"s":"R","p":"rr","w":635,"v":-1.33},{"s":"R","p":"rr","w":637,"v":-1.28},{"s":"R","p":"rr","w":639.7,"v":-1.21}
  ],
  "arrows": [
    {"x0": 378.8, "y0": -1.173, "x1": 291, "y1": -0.947},
    {"x0": 426, "y0": -1.162, "x1": 519.7, "y1": -1.035}
  ]
},
"spacing": 0,
"bounds": "flush",
"resolve": {"scale": {"color": "independent", "y": "independent"}, "legend": {"color": "independent"}},
"vconcat": [
  {
    "width": 674, "height": 167,
    "resolve": {"axis": {"y": "independent"}},
    "layer": [
      {
        "data": {"name": "cd"},
        "mark": {"type": "line", "strokeWidth": 1.8, "clip": true},
        "encoding": {
          "x": {"field": "w", "type": "quantitative", "scale": {"domain": [200, 700]}, "axis": null},
          "y": {"field": "v", "type": "quantitative", "scale": {"domain": [-1.5, 1.5]},
                "axis": {"orient": "right", "values": [-1.5, -0.5, 0.5, 1.5], "format": ".1f", "labelExpr": "replace(datum.label, '\u2212', '-')", "labelFontSize": 17, "tickSize": 8, "labelPadding": 16, "title": "CD (mdeg)", "titleFontSize": 22, "titleAngle": 90, "titleX": 90, "titleY": 83.5, "titleAlign": "center", "titleBaseline": "middle"}},
          "color": {"field": "s", "type": "nominal",
                    "scale": {"domain": ["K", "G", "B", "R"], "range": ["#000000", "#7EC81E", "#1E8CFF", "#FF0000"]},
                    "legend": {"orient": "none", "legendX": 38, "legendY": 24, "title": null, "symbolType": "stroke", "symbolSize": 625, "symbolStrokeWidth": 2.5, "labelFontSize": 17, "labelFont": "Open Sans", "labelColor": "#000", "rowPadding": 6, "labelOffset": 3, "labelLimit": 400,
                               "labelExpr": "datum.value == 'K' ? 'Th' : datum.value == 'G' ? 'Th/poly(dA)' : datum.value == 'B' ? 'Th/poly(dA).poly(dT)' : 'Th/poly(dT)*poly(dA).poly(dT)'"}}
        }
      },
      {
        "data": {"values": [{}]},
        "mark": {"type": "rule", "color": "#000", "strokeWidth": 1},
        "encoding": {"x": {"datum": 450, "type": "quantitative", "axis": null}}
      },
      {
        "data": {"values": [{}]},
        "mark": {"type": "rule", "color": "#000", "strokeWidth": 1.3},
        "encoding": {"x": {"datum": 450, "type": "quantitative", "axis": null}, "x2": {"datum": 700},
                     "y": {"datum": 0, "type": "quantitative", "axis": {"orient": "right", "values": [-1, 0, 1], "format": ".1f", "labelExpr": "replace(datum.label, '\u2212', '-')", "labelFontSize": 17, "tickSize": 8, "labelPadding": 16, "title": null, "domain": false}}}
      }
    ]
  },
  {
    "width": 674, "height": 164,
    "layer": [
      {
        "data": {"name": "abs"},
        "mark": {"type": "line", "strokeWidth": 2, "clip": true},
        "encoding": {
          "x": {"field": "w", "type": "quantitative", "scale": {"domain": [200, 700]}, "axis": null},
          "y": {"field": "v", "type": "quantitative", "scale": {"domain": [0, 1.75]},
                "axis": {"values": [0, 0.25, 0.5, 0.75, 1, 1.25, 1.5, 1.75], "format": ".1f", "labelExpr": "datum.value % 0.5 == 0 ? datum.label : ''", "tickSize": 8, "labelPadding": 16, "title": "absorbance", "titleX": -87, "titleY": 93, "titleAngle": -90, "titleAlign": "center", "titleBaseline": "middle"}},
          "color": {"field": "s", "type": "nominal", "scale": {"domain": ["K", "G", "B", "R"], "range": ["#000000", "#7EC81E", "#1E8CFF", "#FF0000"]}, "legend": null}
        }
      },
      {
        "data": {"values": [{"t": "3x", "w": 647, "v": 0.59}]},
        "mark": {"type": "text", "fontSize": 21, "font": "Open Sans", "color": "#000"},
        "encoding": {"x": {"field": "w", "type": "quantitative", "axis": null}, "y": {"field": "v", "type": "quantitative"}, "text": {"field": "t"}}
      }
    ]
  },
  {
    "width": 674, "height": 141,
    "resolve": {"axis": {"x": "independent"}},
    "layer": [
      {
        "data": {"name": "ld"},
        "mark": {"type": "line", "strokeWidth": 2, "clip": true},
        "encoding": {
          "x": {"field": "w", "type": "quantitative", "scale": {"domain": [200, 700]},
                "axis": {"orient": "bottom", "values": [200, 300, 400, 500, 600, 700], "tickSize": 7, "labelPadding": 15, "title": "wavelength (nm)", "titlePadding": 9}},
          "y": {"field": "v", "type": "quantitative", "scale": {"domain": [-1.5, 0]},
                "axis": {"values": [-1.5, -1.25, -1, -0.75, -0.5, -0.25], "format": ".1f", "labelExpr": "datum.value % 0.5 == 0 ? replace(datum.label, '\u2212', '-') : ''", "tickSize": 8, "labelPadding": 16, "title": "LD (x50)", "titleX": -87, "titleY": 88, "titleAngle": -90, "titleAlign": "center", "titleBaseline": "middle"}},
          "color": {"field": "s", "type": "nominal", "scale": {"domain": ["K", "G", "B", "R"], "range": ["#000000", "#7EC81E", "#1E8CFF", "#FF0000"]}, "legend": null},
          "detail": {"field": "p"}
        }
      },
      {
        "data": {"name": "arrows"},
        "mark": {"type": "rule", "color": "#000", "strokeWidth": 2},
        "encoding": {"x": {"field": "x0", "type": "quantitative", "axis": {"orient": "bottom", "values": [220,240,260,280,320,340,360,380,420,440,460,480,520,540,560,580,620,640,660,680], "labels": false, "domain": false, "title": null, "tickSize": 7}},
                     "y": {"field": "y0", "type": "quantitative"}, "x2": {"field": "x1"}, "y2": {"field": "y1"}}
      },
      {
        "data": {"values": [{"w": 289.5, "v": -0.943}]},
        "mark": {"type": "point", "shape": "triangle-left", "angle": 10, "filled": true, "size": 130, "color": "#000", "opacity": 1},
        "encoding": {"x": {"field": "w", "type": "quantitative", "axis": null}, "y": {"field": "v", "type": "quantitative"}}
      },
      {
        "data": {"values": [{"w": 521.5, "v": -1.033}]},
        "mark": {"type": "point", "shape": "triangle-right", "angle": -5, "filled": true, "size": 130, "color": "#000", "opacity": 1},
        "encoding": {"x": {"field": "w", "type": "quantitative", "axis": null}, "y": {"field": "v", "type": "quantitative"}}
      },
      {
        "data": {"values": [{"t": "LDr", "w": 404, "v": -1.047}, {"t": "(scaled)", "w": 403, "v": -1.367}]},
        "mark": {"type": "text", "fontSize": 21, "font": "Open Sans", "color": "#000"},
        "encoding": {"x": {"field": "w", "type": "quantitative", "axis": null}, "y": {"field": "v", "type": "quantitative"}, "text": {"field": "t"}}
      }
    ]
  }
]
}
